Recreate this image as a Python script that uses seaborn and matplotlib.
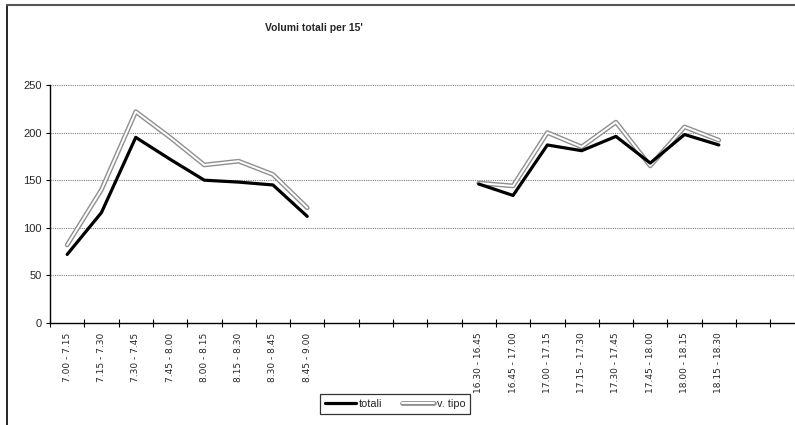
import numpy as np
import pandas as pd
import matplotlib
matplotlib.use("Agg")
import matplotlib.pyplot as plt
import seaborn as sns
from matplotlib.lines import Line2D
from matplotlib.legend_handler import HandlerTuple
from matplotlib.ticker import FixedLocator, NullFormatter

# fasce orarie (le caselle vuote sono gli intervalli senza rilievo)
fasce = ["7.00 - 7.15", "7.15 - 7.30", "7.30 - 7.45", "7.45 - 8.00",
         "8.00 - 8.15", "8.15 - 8.30", "8.30 - 8.45", "8.45 - 9.00",
         "", "", "", "",
         "16.30 - 16.45", "16.45 - 17.00", "17.00 - 17.15", "17.15 - 17.30",
         "17.30 - 17.45", "17.45 - 18.00", "18.00 - 18.15", "18.15 - 18.30",
         "", ""]
periodo = ["mattina"] * 8 + [""] * 4 + ["sera"] * 8 + [""] * 2

nan = np.nan
totali = [72, 116, 195, 172, 150, 148, 145, 112,
          nan, nan, nan, nan,
          146, 134, 187, 181, 196, 168, 198, 187,
          nan, nan]
v_tipo = [82, 140, 222, 195, 166, 170, 156, 121,
          nan, nan, nan, nan,
          147, 144, 200, 185, 211, 165, 206, 192,
          nan, nan]

df = pd.DataFrame({"pos": np.arange(len(fasce)), "periodo": periodo,
                   "totali": totali, "v_tipo": v_tipo})
df = df.dropna()

sns.set_style("white")
plt.rcParams["font.family"] = ["Liberation Sans", "DejaVu Sans"]

fig = plt.figure(figsize=(7.95, 4.25), dpi=100)
ax = fig.add_axes([50 / 795, 1 - 323 / 425, 22 * 34.3 / 795, 238 / 425])

# v. tipo: linea bianca bordata di grigio
sns.lineplot(data=df, x="pos", y="v_tipo", units="periodo", estimator=None,
             color="#8f8f8f", lw=3.4, ax=ax, legend=False, zorder=3)
sns.lineplot(data=df, x="pos", y="v_tipo", units="periodo", estimator=None,
             color="white", lw=1.4, ax=ax, legend=False, zorder=3.1)
# totali
sns.lineplot(data=df, x="pos", y="totali", units="periodo", estimator=None,
             color="black", lw=2.3, ax=ax, legend=False, zorder=4)

ax.set_xlim(-0.5, len(fasce) - 0.5)
ax.set_ylim(0, 250)
ax.set_xlabel("")
ax.set_ylabel("")

ax.xaxis.set_major_locator(FixedLocator(np.arange(len(fasce))))
ax.set_xticklabels(fasce, rotation=90, fontsize=6.5, family="DejaVu Sans")
ax.xaxis.set_minor_locator(FixedLocator(np.arange(len(fasce) + 1) - 0.5))
ax.xaxis.set_minor_formatter(NullFormatter())
ax.tick_params(axis="x", which="major", length=0, pad=7)
ax.tick_params(axis="x", which="minor", direction="inout", length=6,
               width=0.8, color="black", bottom=True)

ax.set_yticks(np.arange(0, 251, 50))
ax.tick_params(axis="y", direction="out", length=3, width=0.8,
               color="black", labelsize=8, pad=3, left=True)

for v in range(50, 251, 50):
    ax.axhline(v, color="#808080", lw=0.8, ls=(0, (1, 1)), zorder=1)

sns.despine(ax=ax, top=True, right=True)
for s in ("left", "bottom"):
    ax.spines[s].set_color("black")
    ax.spines[s].set_linewidth(1.0)

fig.text(314 / 795, 1 - 28 / 425, "Volumi totali per 15'", ha="center",
         va="center", fontsize=7.5, fontweight="bold")

h_tot = Line2D([], [], color="black", lw=2.3)
h_vt = (Line2D([], [], color="#8f8f8f", lw=3.4),
        Line2D([], [], color="white", lw=1.4))
leg = fig.legend([h_tot, h_vt], ["totali", "v. tipo"], loc="center",
                 bbox_to_anchor=(395 / 795, 1 - 404 / 425), ncol=2,
                 frameon=True, fancybox=False, edgecolor="black",
                 fontsize=7.8, handlelength=2.9, handletextpad=0.3,
                 columnspacing=1.8, borderpad=0.45, borderaxespad=0,
                 handler_map={tuple: HandlerTuple(ndivide=1, pad=0)})
leg.get_frame().set_linewidth(0.9)

# cornice del grafico
fig.add_artist(Line2D([7 / 795, 7 / 795], [0, 1 - 5 / 425],
                      transform=fig.transFigure, color="black", lw=1.2))
fig.add_artist(Line2D([7 / 795, 1], [1 - 5 / 425, 1 - 5 / 425],
                      transform=fig.transFigure, color="#555555", lw=1.5))

fig.savefig("out.png", dpi=100)
